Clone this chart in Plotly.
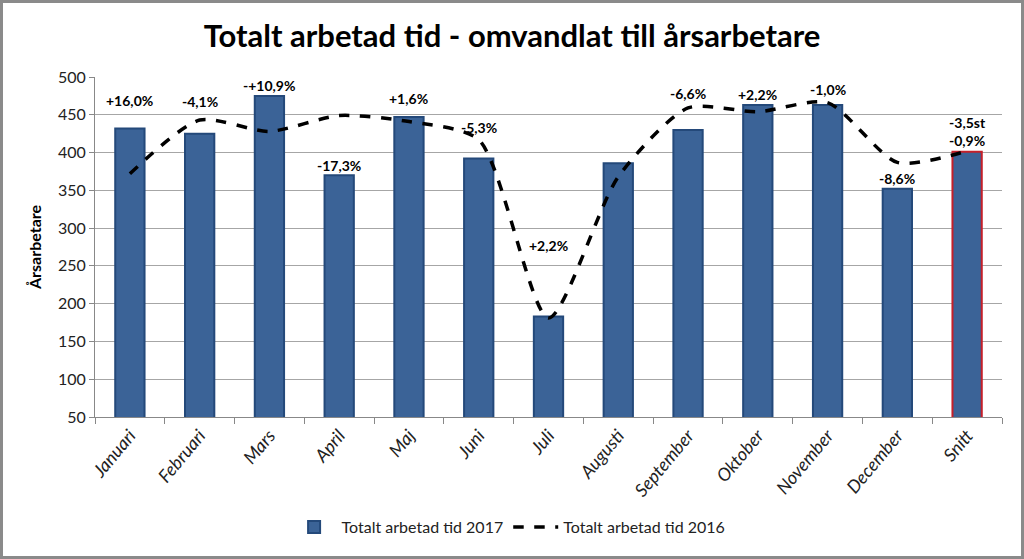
import plotly.graph_objects as go

months = ["Januari", "Februari", "Mars", "April", "Maj", "Juni", "Juli",
          "Augusti", "September", "Oktober", "November", "December", "Snitt"]
tid_2017 = [432, 425, 475, 370, 447, 392, 183, 386, 430, 463, 463, 352, 401]
tid_2016 = [372, 443, 428, 449, 441, 417, 181, 368, 459, 454, 466, 387, 402]
change_labels = ["+16,0%", "-4,1%", "-+10,9%", "-17,3%", "+1,6%", "-5,3%", "+2,2%",
                 "", "-6,6%", "+2,2%", "-1,0%", "-8,6%", "-3,5st<br>-0,9%"]
label_shift = [28, 32, 10, 10, 19, 31, 71, 0, 36, 10, 15, 10, 20]

FONT = "Lato, 'Open Sans', sans-serif"
bar_outline = ["#24497a"] * (len(months) - 1) + ["#c4202a"]

W, H = 1024, 559
ML, MR, MT, MB = 95, 22, 77, 142
PW, PH = W - ML - MR, H - MT - MB

fig = go.Figure()
fig.add_trace(go.Bar(
    x=months, y=tid_2017, name="Totalt arbetad tid 2017",
    marker=dict(color="#3b6397", line=dict(color=bar_outline, width=2)),
    width=0.42,
))
fig.add_trace(go.Scatter(
    x=months, y=tid_2016, name="Totalt arbetad tid 2016", mode="lines",
    line=dict(color="black", width=3.5, dash="dash", shape="spline", smoothing=0.7),
))

for m, v, t, s in zip(months, tid_2017, change_labels, label_shift):
    if t:
        fig.add_annotation(x=m, y=v, text="<b>" + t + "</b>", showarrow=False,
                           yanchor="middle", yshift=s,
                           font=dict(family=FONT, size=14, color="black"))

b = 1.5
fig.update_layout(
    width=W, height=H,
    paper_bgcolor="white", plot_bgcolor="white",
    margin=dict(l=ML, r=MR, t=MT, b=MB),
    title=dict(text="<b>Totalt arbetad tid - omvandlat till årsarbetare</b>",
               x=0.5, xanchor="center", y=1 - 36 / H, yanchor="middle",
               font=dict(family=FONT, size=31, color="black")),
    font=dict(family=FONT, size=15, color="#222"),
    showlegend=True,
    legend=dict(orientation="h", x=0.456, xanchor="center", y=-(527 - MT - PH) / PH,
                yanchor="middle",
                font=dict(family=FONT, size=16, color="#222"), itemwidth=45),
    xaxis=dict(showline=True, linecolor="#888", linewidth=1, ticks="outside",
               tickson="boundaries", tickcolor="#888", ticklen=6, tickangle=-50,
               tickfont=dict(family=FONT, size=18, color="#222", style="italic"),
               showgrid=False),
    yaxis=dict(range=[50, 500], dtick=50, showline=True, linecolor="#888",
               ticks="outside", tickcolor="#888", ticklen=5,
               gridcolor="#a6a6a6", gridwidth=1,
               tickfont=dict(family=FONT, size=16, color="#222"),
               title=dict(text="<b>Årsarbetare</b>", standoff=12,
                          font=dict(family=FONT, size=16, color="black"))),
    shapes=[dict(type="rect", xref="paper", yref="paper",
                 x0=-(ML - b) / PW, x1=1 + (MR - b) / PW,
                 y0=-(MB - b) / PH, y1=1 + (MT - b) / PH,
                 line=dict(color="#8a8a8a", width=3))],
)

fig.write_html("out.html", config={"displayModeBar": False},
               post_script="document.body.style.margin='0';")
